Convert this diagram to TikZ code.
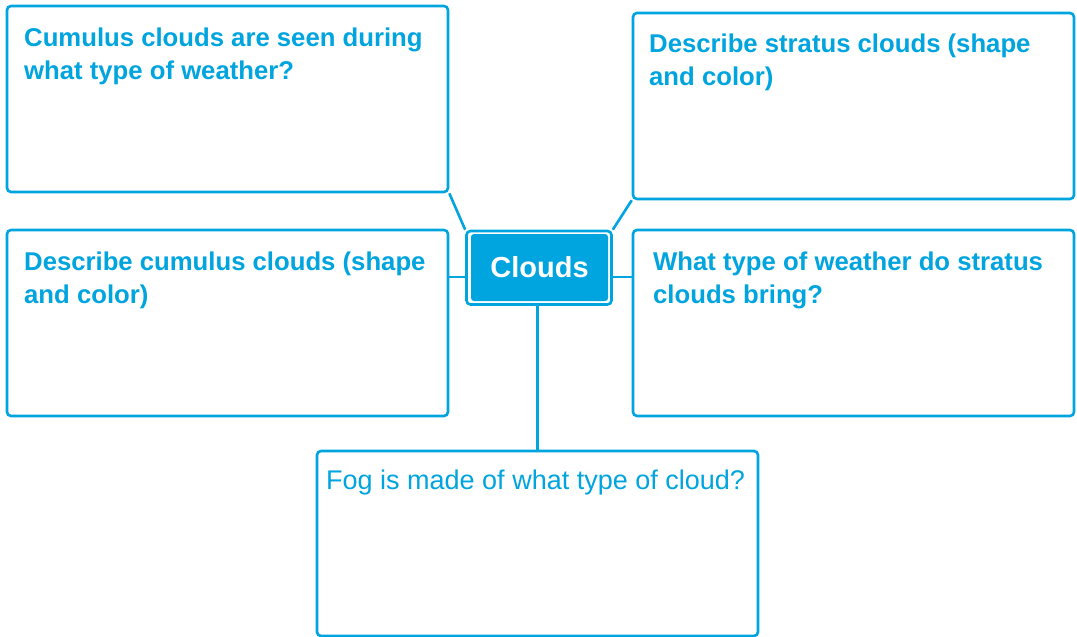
\documentclass[tikz,border=0pt]{standalone}
\usepackage{fontspec}
\setmainfont{Liberation Sans}
\usetikzlibrary{calc}
\definecolor{cblue}{RGB}{0,164,223}
\begin{document}
\begin{tikzpicture}[x=1pt,y=-1pt,
  qbox/.style={draw=cblue, line width=2.6pt, rounded corners=4pt, fill=white, inner sep=0pt, minimum width=441pt, minimum height=186pt},
  qtext/.style={text=cblue, inner sep=0pt, anchor=north west, align=left, font=\fontsize{25.7}{33}\selectfont\bfseries},
  ftext/.style={text=cblue, inner sep=0pt, anchor=north west, align=left, font=\fontsize{27}{33}\selectfont},
  link/.style={draw=cblue, line width=2.6pt}]
\useasboundingbox (0,0) rectangle (1077,637);
% boxes
\node[qbox] (q1) at (227.5,99) {};
\node[qbox] (q2) at (853.5,106) {};
\node[qbox] (q3) at (227.5,323) {};
\node[qbox] (q4) at (853.5,323) {};
\node[qbox, minimum height=185pt] (q5) at (537.5,543.5) {};
% centre
\node[draw=cblue, line width=2.6pt, rounded corners=4pt, minimum width=145pt, minimum height=73.5pt, inner sep=0pt] (cframe) at (539,267.75) {};
\node[fill=cblue, rounded corners=3pt, minimum width=137pt, minimum height=67pt, inner sep=0pt, text=white, font=\fontsize{29}{33}\selectfont\bfseries] (c) at (539.5,267.5) {Clouds};
% connectors
\coordinate (lj) at ($(cframe.west)+(0,9.3)$);
\coordinate (rj) at ($(cframe.east)+(0,9.3)$);
\draw[link] (q1.south east) -- (cframe.north west);
\draw[link] (q2.south west) -- (cframe.north east);
\draw[link] (lj) -- (lj -| q3.east);
\draw[link] (rj) -- (rj -| q4.west);
\draw[link] (cframe.south -| q5.north) -- (q5.north);
% texts
\node[qtext] (t1) at (24,27.5) {Cumulus clouds are seen during\\what type of weather?};
\node[qtext] (t2) at (649,34) {Describe stratus clouds (shape\\and color)};
\node[qtext] (t3) at (24,251.5) {Describe cumulus clouds (shape\\and color)};
\node[qtext] (t4) at (653,251.5) {What type of weather do stratus\\clouds bring?};
\node[ftext] (t5) at (326,470) {Fog is made of what type of cloud?};
\end{tikzpicture}
\end{document}
